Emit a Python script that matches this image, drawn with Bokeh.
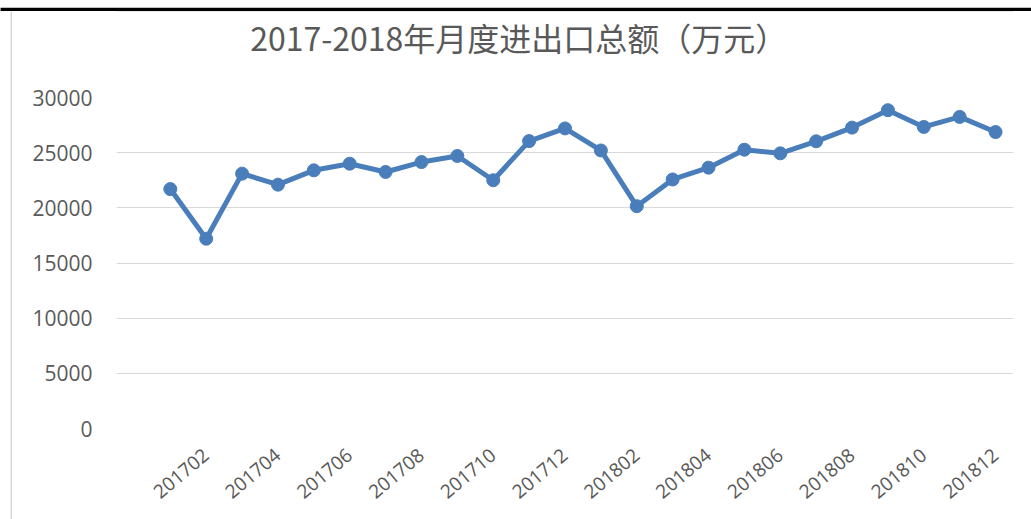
from bokeh.plotting import figure
from bokeh.models import Range1d, FixedTicker, ColumnDataSource, Span
from bokeh.core.properties import value
from bokeh.layouts import column, row
from bokeh.embed import file_html
from bokeh.resources import INLINE

# ---- data ----
months = ["201701", "201702", "201703", "201704", "201705", "201706",
          "201707", "201708", "201709", "201710", "201711", "201712",
          "201801", "201802", "201803", "201804", "201805", "201806",
          "201807", "201808", "201809", "201810", "201811", "201812"]
values = [21700, 17200, 23100, 22100, 23400, 24000,
          23250, 24150, 24700, 22500, 26050, 27200,
          25200, 20150, 22570, 23640, 25270, 24940,
          26030, 27270, 28850, 27330, 28240, 26870]
y_ticks = [0, 5000, 10000, 15000, 20000, 25000, 30000]
title_text = "2017-2018年月度进出口总额（万元）"

BLUE = "#4A7EBB"
GRAY_TXT = "#595959"
GRID = "#d9d9d9"

TOTAL_W, TOTAL_H = 1031, 519
TOP_H = 11       # white strip + black rule
LEFT_W = 12      # white strip + grey chart border
W = TOTAL_W - LEFT_W
TH = 74          # title strip height
H = TOTAL_H - TOP_H - TH   # main chart height


def blank(width, height, xr=(0, 1), yr=(0, 1), **kw):
    f = figure(width=width, height=height, output_backend="svg",
               toolbar_location=None, x_axis_type=None, y_axis_type=None,
               x_range=Range1d(*xr), y_range=Range1d(*yr), margin=0, **kw)
    f.grid.visible = False
    f.outline_line_color = None
    f.border_fill_color = "white"
    f.background_fill_color = "white"
    return f


# ---- top strip: black rule ----
top = blank(TOTAL_W, TOP_H, xr=(0, TOTAL_W), yr=(0, TOP_H), min_border=0)
top.quad(left=[0], right=[TOTAL_W], bottom=[0], top=[4.5], fill_color="#000000",
         line_color="#000000", line_width=0.5)

# ---- left chart border (grey) ----
left = blank(LEFT_W, TH + H, min_border_left=10, min_border_right=0,
             min_border_top=0, min_border_bottom=0)
left.background_fill_color = GRID

# ---- title strip (its frame is aligned with the chart's plot frame) ----
tf = blank(W, TH, min_border=0)
tf.add_layout(Span(location=1, dimension="width", line_color=GRID, line_width=1))
tf.text(x=[0.149], y=[0.66], text=[title_text], text_align="left",
        text_baseline="middle", text_font=value("Noto Sans CJK SC"),
        text_font_size=value("32px"), text_color=GRAY_TXT)

# ---- main chart ----
xs = list(range(len(months)))
src = ColumnDataSource(dict(x=xs, y=values, m=months))

p = figure(width=W, height=H, output_backend="svg", toolbar_location=None,
           x_range=Range1d(-1.5, len(months) - 0.5),
           y_range=Range1d(y_ticks[0], y_ticks[-1]),
           min_border_left=104, min_border_right=18,
           min_border_top=12, min_border_bottom=91, margin=0)
p.outline_line_color = None
p.background_fill_color = "white"
p.border_fill_color = "white"

p.line("x", "y", source=src, line_color=BLUE, line_width=5)
p.scatter("x", "y", source=src, size=13, fill_color=BLUE, line_color=BLUE)

# y axis
p.yaxis.ticker = FixedTicker(ticks=y_ticks)
p.yaxis.axis_line_color = None
p.yaxis.major_tick_line_color = None
p.yaxis.minor_tick_line_color = None
p.yaxis.major_label_text_font = "Open Sans"
p.yaxis.major_label_text_font_size = "21px"
p.yaxis.major_label_text_color = GRAY_TXT
p.yaxis.major_label_standoff = 18
p.ygrid.ticker = FixedTicker(ticks=y_ticks)
p.ygrid.grid_line_color = GRID
p.ygrid.grid_line_width = 1
p.xgrid.grid_line_color = None

# x axis: every second month label
lab_ticks = list(range(1, len(months), 2))
p.xaxis.ticker = FixedTicker(ticks=lab_ticks)
p.xaxis.major_label_overrides = {i: months[i] for i in lab_ticks}
p.xaxis.axis_line_color = None
p.xaxis.major_tick_line_color = None
p.xaxis.minor_tick_line_color = None
p.xaxis.major_label_orientation = 0.70
p.xaxis.major_label_text_font = "Open Sans"
p.xaxis.major_label_text_font_size = "19px"
p.xaxis.major_label_text_color = GRAY_TXT
p.xaxis.major_label_standoff = 18

layout = column(top,
                row(left, column(tf, p, margin=0, spacing=0), margin=0, spacing=0),
                margin=0, spacing=0)

with open("out.html", "w") as f:
    f.write(file_html(layout, INLINE))
